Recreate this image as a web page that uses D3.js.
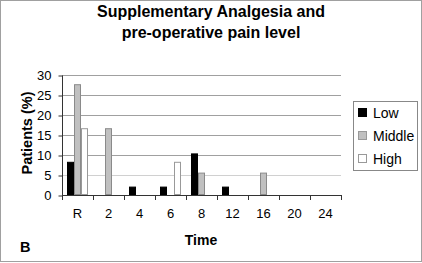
<!DOCTYPE html>
<meta charset="utf-8">
<script src="https://d3js.org/d3.v7.min.js"></script>
<style>
body { margin: 0; background: #fff; }
text { font-family: "Liberation Sans", Arial, sans-serif; }
</style>
<body>
<div id="canvas"></div>
<script>
// data
var times = ["R", "2", "4", "6", "8", "12", "16", "20", "24"];
var series = ["Low", "Middle", "High"];
var low    = [8.3, 0, 2.1, 2.1, 10.4, 2.1, 0, 0, 0];
var middle = [27.7, 16.7, 0, 0, 5.6, 0, 5.6, 0, 0];
var high   = [16.7, 0, 0, 8.3, 0, 0, 0, 0, 0];
var yTicks = [0, 5, 10, 15, 20, 25, 30];

var width = 422, height = 263;
var colors = { "Low": "#000000", "Middle": "#c0c0c0", "High": "#ffffff" };
var strokes = { "Low": "#000000", "Middle": "#8a8a8a", "High": "#999999" };

var svg = d3.select("#canvas").append("svg")
    .attr("width", width).attr("height", height);

// outer frame
svg.append("rect")
    .attr("x", 0.5).attr("y", 0.5)
    .attr("width", width - 1).attr("height", height - 2)
    .attr("fill", "#fff").attr("stroke", "#a0a0a0");

var margin = {top: 75, left: 62, right: 80, bottom: 68};
var w = 279, h = 120;

var g = svg.append("g")
    .attr("transform", "translate(" + margin.left + "," + margin.top + ")");

var x0 = d3.scaleBand().domain(times).range([0, w]);
var x1 = d3.scaleBand().domain(series).range([5, x0.bandwidth() - 5]);
var y = d3.scaleLinear().domain([0, 30]).range([h, 0]);

// gridlines
g.selectAll(".grid")
    .data(yTicks.filter(function(d) { return d > 0; }))
    .enter().append("line")
    .attr("x1", 0).attr("x2", w)
    .attr("y1", function(d) { return y(d) + 0.5; })
    .attr("y2", function(d) { return y(d) + 0.5; })
    .attr("stroke", function(d) { return d == 5 ? "#d0d0d0" : "#a0a0a0"; });

// bars
var data = times.map(function(t, i) {
    return { time: t, values: [
        { s: "Low", v: low[i] }, { s: "Middle", v: middle[i] }, { s: "High", v: high[i] }
    ]};
});

var grupos = g.selectAll(".grp").data(data).enter().append("g")
    .attr("transform", function(d) { return "translate(" + x0(d.time) + ",0)"; });

grupos.selectAll("rect")
    .data(function(d) { return d.values.filter(function(e) { return e.v > 0; }); })
    .enter().append("rect")
    .attr("x", function(d) { return x1(d.s) + 0.5; })
    .attr("y", function(d) { return y(d.v) + 0.5; })
    .attr("width", x1.bandwidth() - 1)
    .attr("height", function(d) { return h - y(d.v) - 1; })
    .attr("fill", function(d) { return colors[d.s]; })
    .attr("stroke", function(d) { return strokes[d.s]; });

// y axis
var yAxis = g.append("g")
    .call(d3.axisLeft(y).tickValues(yTicks).tickSize(4).tickPadding(7))
    .attr("transform", "translate(0.5,0.5)");
yAxis.selectAll("text").style("font-size", "13px").attr("fill", "#000");
yAxis.select(".domain").attr("stroke", "#333").attr("d", "M0,0V" + h);
yAxis.selectAll("line").attr("stroke", "#333");

// x axis: line plus ticks at band boundaries
g.append("line")
    .attr("x1", 0).attr("x2", w)
    .attr("y1", h + 0.5).attr("y2", h + 0.5)
    .attr("stroke", "#333");
g.selectAll(".xtick")
    .data(times.concat(["end"]))
    .enter().append("line")
    .attr("x1", function(d, i) { return Math.round(i * x0.step()) + 0.5; })
    .attr("x2", function(d, i) { return Math.round(i * x0.step()) + 0.5; })
    .attr("y1", h).attr("y2", h + 5)
    .attr("stroke", "#333");
g.selectAll(".xlab")
    .data(times)
    .enter().append("text")
    .attr("x", function(d) { return x0(d) + x0.bandwidth() / 2; })
    .attr("y", h + 23)
    .attr("text-anchor", "middle")
    .style("font-size", "13px")
    .text(function(d) { return d; });

// titles
svg.append("text").attr("x", 211).attr("y", 17)
    .attr("text-anchor", "middle").style("font-size", "16px").style("font-weight", "bold")
    .text("Supplementary Analgesia and");
svg.append("text").attr("x", 211).attr("y", 38)
    .attr("text-anchor", "middle").style("font-size", "16px").style("font-weight", "bold")
    .text("pre-operative pain level");

svg.append("text")
    .attr("transform", "translate(32,133) rotate(-90)")
    .attr("text-anchor", "middle").style("font-size", "14.5px").style("font-weight", "bold")
    .text("Patients (%)");

svg.append("text").attr("x", 201).attr("y", 245)
    .attr("text-anchor", "middle").style("font-size", "14px").style("font-weight", "bold")
    .text("Time");

svg.append("text").attr("x", 20).attr("y", 252)
    .style("font-size", "14.5px").style("font-weight", "bold")
    .text("B");

// legend
var lg = svg.append("g").attr("transform", "translate(353,101)");
lg.append("rect")
    .attr("x", 0.5).attr("y", 0.5).attr("width", 64).attr("height", 69)
    .attr("fill", "#fff").attr("stroke", "#888");
var item = lg.selectAll(".legend").data(series).enter().append("g")
    .attr("transform", function(d, i) { return "translate(0," + (12 + i * 23) + ")"; });
item.append("rect")
    .attr("x", 5.5).attr("y", -4.5).attr("width", 8).attr("height", 8)
    .attr("fill", function(d) { return colors[d]; })
    .attr("stroke", function(d) { return d == "Low" ? "#000" : "#999"; });
item.append("text")
    .attr("x", 20).attr("y", 0).attr("dy", "0.35em")
    .style("font-size", "14px")
    .text(function(d) { return d; });
</script>
</body>
